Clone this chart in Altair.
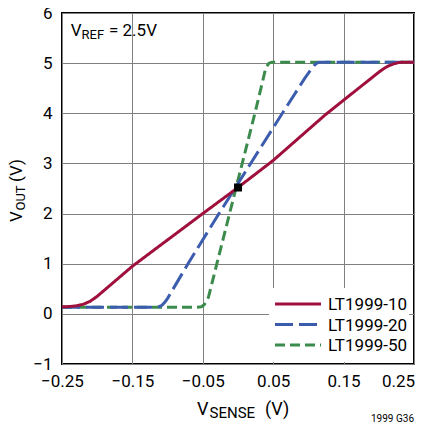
import altair as alt
import pandas as pd

FONT = "Roboto"

series_names = ["LT1999-10", "LT1999-20", "LT1999-50"]
series_colors = ["#A0103C", "#3C5DAE", "#3B8B4C"]
series_dash = [[1, 0], [18, 6], [10, 5]]

# LT1999-10
x_10 = [-0.25, -0.24, -0.23, -0.22, -0.21, -0.20, -0.19, -0.18, -0.15, -0.05, 0.0, 0.05, 0.124, 0.20, 0.207, 0.213, 0.22, 0.228, 0.236, 0.25]
y_10 = [0.14, 0.145, 0.16, 0.19, 0.25, 0.35, 0.47, 0.59, 0.95, 2.0, 2.52, 3.06, 3.97, 4.82, 4.89, 4.94, 4.98, 5.01, 5.02, 5.02]
# LT1999-20
x_20 = [-0.25, -0.12, -0.113, -0.108, -0.104, -0.10, -0.071, -0.027, 0.0, 0.018, 0.063, 0.095, 0.10, 0.104, 0.108, 0.112, 0.117, 0.25]
y_20 = [0.13, 0.13, 0.14, 0.17, 0.23, 0.31, 1.0, 2.0, 2.6, 3.0, 4.0, 4.7, 4.8, 4.88, 4.95, 5.0, 5.02, 5.02]
# LT1999-50
x_50 = [-0.25, -0.058, -0.052, -0.048, -0.045, -0.042, -0.030, -0.012, 0.006, 0.024, 0.034, 0.038, 0.041, 0.044, 0.048, 0.25]
y_50 = [0.13, 0.13, 0.14, 0.18, 0.25, 0.33, 1.0, 2.0, 3.0, 4.0, 4.58, 4.82, 4.94, 5.0, 5.02, 5.02]

marker_x = [0.0]
marker_y = [2.52]

x_ticks = [-0.25, -0.15, -0.05, 0.05, 0.15, 0.25]
y_ticks = [-1, 0, 1, 2, 3, 4, 5, 6]

rows = []
for name, xs, ys in [("LT1999-50", x_50, y_50), ("LT1999-20", x_20, y_20), ("LT1999-10", x_10, y_10)]:
    for i, (a, b) in enumerate(zip(xs, ys)):
        rows.append({"series": name, "vsense": a, "vout": b, "idx": i})
df = pd.DataFrame(rows)

xscale = alt.Scale(domain=[-0.25, 0.25], nice=False, zero=False)
yscale = alt.Scale(domain=[-1, 6], nice=False, zero=False)
cscale = alt.Scale(domain=series_names, range=series_colors)
dscale = alt.Scale(domain=series_names, range=series_dash)

lines = alt.Chart(df).mark_line(strokeWidth=3, clip=True).encode(
    x=alt.X("vsense:Q", scale=xscale,
            axis=alt.Axis(values=x_ticks, title=None, grid=True, ticks=False, domain=False,
                          labelExpr="replace(format(datum.value, '.2f'), '-', '\u2212')",
                          labelPadding=9, labelFontSize=17, labelFont=FONT, labelColor="#000",
                          labelFlush=False, labelOverlap=False,
                          labelOffset={"condition": {"test": "datum.value > 0.24", "value": -16}, "value": 0},
                          gridColor="#808080", gridWidth=1)),
    y=alt.Y("vout:Q", scale=yscale,
            axis=alt.Axis(values=y_ticks, title=None, grid=True, ticks=False, domain=False,
                          labelExpr="replace(format(datum.value, '.0f'), '-', '\u2212')",
                          labelPadding=10, labelFontSize=17, labelFont=FONT, labelColor="#000",
                          labelFlush=False, labelOverlap=False,
                          gridColor="#808080", gridWidth=1)),
    color=alt.Color("series:N", scale=cscale, legend=None),
    strokeDash=alt.StrokeDash("series:N", scale=dscale, legend=None),
    order="idx:Q",
)

mdf = pd.DataFrame({"vsense": marker_x, "vout": marker_y})
marker = alt.Chart(mdf).mark_square(size=64, color="#000", opacity=1).encode(
    x=alt.X("vsense:Q", scale=xscale), y=alt.Y("vout:Q", scale=yscale)
)

# legend (drawn inside the plot, lower right)
leg_df = pd.DataFrame({"series": series_names, "row": [0, 1, 2]})
leg_box = alt.Chart(leg_df).mark_rect(fill="#fff").encode(
    x=alt.value(207), x2=alt.value(347), y=alt.value(275), y2=alt.value(349)
).transform_filter("datum.row == 0")
leg_lines = alt.Chart(leg_df).transform_calculate(ly="291 + 20.5 * datum.row").mark_rule(strokeWidth=3).encode(
    x=alt.value(213), x2=alt.value(259), y=alt.Y("ly:Q", scale=None),
    color=alt.Color("series:N", scale=cscale, legend=None),
    strokeDash=alt.StrokeDash("series:N", scale=dscale, legend=None),
)
leg_text = alt.Chart(leg_df).transform_calculate(ly="291 + 20.5 * datum.row").mark_text(
    align="left", baseline="middle", font=FONT, fontSize=17, color="#000", dy=1
).encode(x=alt.value(266), y=alt.Y("ly:Q", scale=None), text="series:N")

ann = pd.DataFrame([
    {"t": "V", "px": 8.7, "py": 23, "fs": 17, "ang": 0},
    {"t": "REF", "px": 19.5, "py": 26, "fs": 13, "ang": 0},
    {"t": "= 2.5V", "px": 47, "py": 23, "fs": 17, "ang": 0},
    {"t": "V", "px": 135, "py": 402, "fs": 18, "ang": 0},
    {"t": "SENSE", "px": 147.5, "py": 405, "fs": 15, "ang": 0},
    {"t": "(V)", "px": 203, "py": 402, "fs": 18, "ang": 0},
    {"t": "V", "px": -40, "py": 209, "fs": 17, "ang": 270},
    {"t": "OUT", "px": -37.5, "py": 197.5, "fs": 13, "ang": 270},
    {"t": "(V)", "px": -40, "py": 169, "fs": 17, "ang": 270},
])
texts = alt.Chart(ann).mark_text(align="left", baseline="alphabetic", font=FONT, color="#000").encode(
    x=alt.X("px:Q", scale=None), y=alt.Y("py:Q", scale=None), text="t:N",
    size=alt.Size("fs:Q", scale=None), angle=alt.Angle("ang:Q", scale=None),
)

foot = alt.Chart(pd.DataFrame({"t": ["1999 G36"]})).mark_text(
    align="right", baseline="alphabetic", font=FONT, fontSize=10, color="#000"
).encode(x=alt.value(352), y=alt.value(409), text="t:N")

chart = alt.layer(lines, marker, leg_box, leg_lines, leg_text, texts, foot).properties(
    width=352, height=351,
    autosize=alt.AutoSizeParams(type="none"),
    padding={"left": 54, "top": 5, "right": 1, "bottom": 60},
).configure_view(stroke="#000", strokeWidth=2)

chart.save("out.html", embed_options={"renderer": "svg", "actions": False})
